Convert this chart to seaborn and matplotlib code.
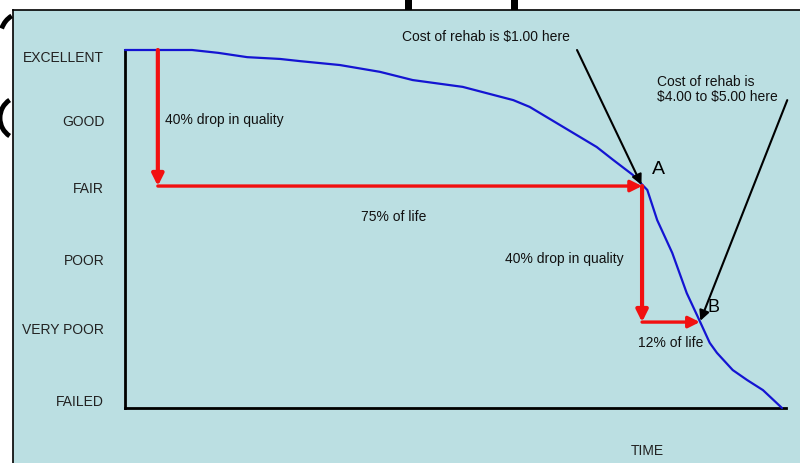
import numpy as np
import pandas as pd
import matplotlib
matplotlib.use("Agg")
import matplotlib.pyplot as plt
from matplotlib.patches import Arc, Rectangle
import seaborn as sns

# deterioration curve: % of life vs % quality
life_pct = [0, 10.2, 14.2, 18.6, 23.6, 26.6, 32.7, 38.8, 43.8, 51.4, 59.1, 61.6, 66.7,
            71.8, 74.3, 77.3, 79.5, 81.0, 83.3, 85.5, 87.2, 89.0, 90.1, 92.5, 94.7, 97.1, 100]
quality_pct = [100, 100, 99.2, 98.0, 97.5, 96.9, 95.8, 93.9, 91.6, 89.7, 86.0, 84.1, 78.5,
               72.9, 69.3, 65.1, 60.9, 52.5, 43.3, 32.1, 25.4, 18.2, 15.4, 10.6, 7.8, 5.0, 0]

levels = ["EXCELLENT", "GOOD", "FAIR", "POOR", "VERY POOR", "FAILED"]
level_pos = [98.3, 80.4, 61.5, 41.6, 22.1, 2.0]

start_life = 5.0
point_a = (78.7, 62.0)
point_b = (87.5, 24.0)

BG = "#bbdfe2"
RED = "#f21010"
BLUE = "#1414d2"

sns.set_theme(style="white")
plt.rcParams["font.family"] = ["Liberation Sans", "DejaVu Sans"]

fig = plt.figure(figsize=(8, 4.63), dpi=100)
fig.patch.set_facecolor("white")

# bits of the slide title showing in the white margins (pixel coords, y up)
edge = fig.add_axes([0, 0, 1, 1])
edge.set_xlim(0, 800)
edge.set_ylim(0, 463)
edge.axis("off")
edge.add_patch(Arc((22, 463 - 38), 44, 50, theta1=115, theta2=155, lw=3.5,
                   color="black", clip_on=False))
edge.add_patch(Arc((20, 463 - 118), 40, 42, theta1=120, theta2=240, lw=3.5,
                   color="black", clip_on=False))
for bx in [405, 511]:
    edge.add_patch(Rectangle((bx, 453), 7, 10, color="black", lw=0, clip_on=False))

# light blue panel
bg = fig.add_axes([13 / 800, 0, 1 - 13 / 800, 1 - 10 / 463])
bg.set_facecolor(BG)
bg.set_xticks([])
bg.set_yticks([])
for side in ["right", "bottom"]:
    bg.spines[side].set_visible(False)
for side in ["top", "left"]:
    bg.spines[side].set_linewidth(1.2)
    bg.spines[side].set_color("black")

ax = fig.add_axes([125 / 800, (463 - 408) / 463, 661 / 800, 358 / 463])
ax.patch.set_alpha(0)
df = pd.DataFrame({"life": life_pct, "quality": quality_pct})
sns.lineplot(data=df, x="life", y="quality", ax=ax, color=BLUE, lw=1.6,
             sort=False, clip_on=False, zorder=3)

ax.set_xlim(0, 100 * 661 / 657)
ax.set_ylim(0, 100)
ax.set_xticks([])
ax.set_yticks(level_pos)
ax.set_yticklabels(levels, fontsize=10, color="#222222")
ax.tick_params(axis="y", length=0, pad=15)
for side in ["top", "right"]:
    ax.spines[side].set_visible(False)
for side in ["left", "bottom"]:
    ax.spines[side].set_color("black")
    ax.spines[side].set_linewidth(2)
ax.set_ylabel("")
ax.set_xlabel("TIME", fontsize=10, color="#222222")
ax.xaxis.set_label_coords(0.79, -0.10)

# red drop / life arrows
red_legs = [((start_life, 100), (start_life, point_a[1]), 3.0),
            ((start_life, point_a[1]), point_a, 2.4),
            (point_a, (point_a[0], point_b[1]), 3.0),
            ((point_a[0], point_b[1]), point_b, 2.4)]
for p0, p1, lw in red_legs:
    ax.annotate("", xy=p1, xytext=p0, zorder=4, annotation_clip=False,
                arrowprops=dict(arrowstyle="-|>", color=RED, lw=lw,
                                shrinkA=0, shrinkB=0, mutation_scale=17))

# black pointer arrows
ax.annotate("", xy=point_a, xytext=(68.8, 100), annotation_clip=False, zorder=5,
            arrowprops=dict(arrowstyle="-|>", color="black", lw=1.5,
                            shrinkA=0, shrinkB=1, mutation_scale=15))
ax.annotate("", xy=point_b, xytext=(100.8, 86), annotation_clip=False, zorder=5,
            arrowprops=dict(arrowstyle="-|>", color="black", lw=1.5,
                            shrinkA=0, shrinkB=1, mutation_scale=15))

txt = dict(fontsize=10, color="#111111", clip_on=False, va="center")
ax.text(42.2, 103.6, "Cost of rehab is \\$1.00 here", ha="left", **txt)
ax.text(81.0, 89.0, "Cost of rehab is\n\\$4.00 to \\$5.00 here", ha="left", linespacing=1.1, **txt)
ax.text(6.1, 80.4, "40% drop in quality", ha="left", **txt)
ax.text(40.9, 53.4, "75% of life", ha="center", **txt)
ax.text(57.8, 41.6, "40% drop in quality", ha="left", **txt)
ax.text(78.1, 18.2, "12% of life", ha="left", **txt)
ax.text(80.2, 66.5, "A", ha="left", fontsize=14, color="black", va="center")
ax.text(88.7, 28.2, "B", ha="left", fontsize=13, color="black", va="center")

fig.savefig("out.png", dpi=100)
